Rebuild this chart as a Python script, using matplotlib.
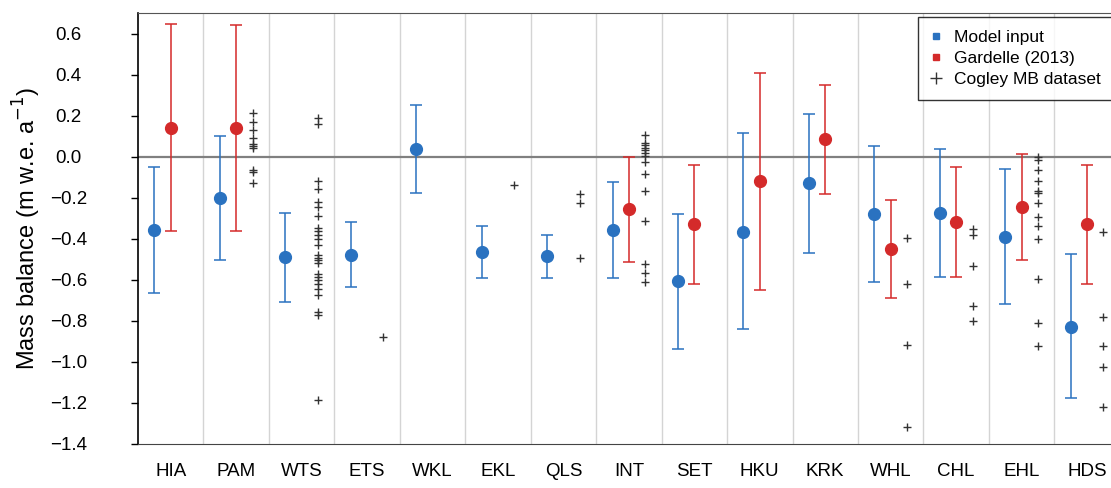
import matplotlib
matplotlib.use("Agg")
import matplotlib.pyplot as plt
from matplotlib.lines import Line2D
import numpy as np

plt.rcParams['font.family'] = ['Liberation Sans', 'DejaVu Sans']

regions = ['HIA', 'PAM', 'WTS', 'ETS', 'WKL', 'EKL', 'QLS', 'INT',
           'SET', 'HKU', 'KRK', 'WHL', 'CHL', 'EHL', 'HDS']

# model input: mean and error bar ends
model_mb = [-0.356, -0.203, -0.49, -0.48, 0.036, -0.463, -0.485, -0.359,
            -0.607, -0.365, -0.13, -0.28, -0.275, -0.392, -0.828]
model_hi = [-0.049, 0.10, -0.276, -0.32, 0.25, -0.336, -0.38, -0.123,
            -0.278, 0.115, 0.21, 0.05, 0.038, -0.062, -0.475]
model_lo = [-0.665, -0.505, -0.706, -0.637, -0.177, -0.59, -0.593, -0.59,
            -0.935, -0.84, -0.47, -0.613, -0.587, -0.72, -1.174]

# Gardelle (2013)
gardelle_regions = ['HIA', 'PAM', 'INT', 'SET', 'HKU', 'KRK', 'WHL', 'CHL', 'EHL', 'HDS']
gardelle_mb = [0.14, 0.14, -0.255, -0.33, -0.12, 0.085, -0.45, -0.319, -0.245, -0.328]
gardelle_hi = [0.645, 0.64, 0.0, -0.042, 0.408, 0.35, -0.211, -0.052, 0.013, -0.041]
gardelle_lo = [-0.36, -0.36, -0.514, -0.62, -0.65, -0.18, -0.689, -0.587, -0.506, -0.62]

# Cogley MB dataset
cogley_pam = [0.211, 0.169, 0.132, 0.09, 0.063, 0.05, 0.042, -0.065, -0.077, -0.126]
cogley_wts = [0.19, 0.16, -0.12, -0.16, -0.22, -0.245, -0.29, -0.35, -0.36, -0.38,
              -0.40, -0.43, -0.48, -0.495, -0.505, -0.52, -0.57, -0.585, -0.60,
              -0.62, -0.645, -0.675, -0.755, -0.77, -1.185]
cogley_ets = [-0.877]
cogley_ekl = [-0.14]
cogley_qls = [-0.182, -0.228, -0.496]
cogley_int = [0.104, 0.067, 0.055, 0.042, 0.031, 0.018, 0.001, -0.026, -0.083,
              -0.169, -0.312, -0.523, -0.567, -0.611]
cogley_whl = [-0.397, -0.621, -0.919, -1.316]
cogley_chl = [-0.353, -0.38, -0.532, -0.727, -0.80]
cogley_ehl = [-0.002, -0.015, -0.063, -0.117, -0.169, -0.177, -0.226, -0.294,
              -0.337, -0.402, -0.595, -0.811, -0.922]
cogley_hds = [-0.369, -0.782, -0.925, -1.023, -1.221]

cogley = {'PAM': cogley_pam, 'WTS': cogley_wts, 'ETS': cogley_ets,
          'EKL': cogley_ekl, 'QLS': cogley_qls, 'INT': cogley_int,
          'WHL': cogley_whl, 'CHL': cogley_chl, 'EHL': cogley_ehl,
          'HDS': cogley_hds}

yticks = [-1.4, -1.2, -1.0, -0.8, -0.6, -0.4, -0.2, 0.0, 0.2, 0.4, 0.6]

BLUE = '#2a72c0'
RED = '#d42a2a'

fig = plt.figure(figsize=(11.11, 4.88), dpi=100)
ax = fig.add_axes([0.1242, 0.0902, 0.8758, 0.8832])

x = np.arange(len(regions))

# category separators and zero line
for b in x[:-1] + 0.5:
    ax.axvline(b, color='#d4d4d4', lw=1, zorder=0)
ax.axhline(0, color='#808080', lw=1.6, zorder=1)

# model input
xm = x - 0.25
mb = np.array(model_mb)
ax.errorbar(xm, mb, yerr=[mb - np.array(model_lo), np.array(model_hi) - mb],
            fmt='o', color=BLUE, ms=8.5, elinewidth=1.1, capsize=4.5,
            capthick=1.1, zorder=3)

# Gardelle
xg = np.array([regions.index(r) for r in gardelle_regions], dtype=float)
gm = np.array(gardelle_mb)
ax.errorbar(xg, gm, yerr=[gm - np.array(gardelle_lo), np.array(gardelle_hi) - gm],
            fmt='o', color=RED, ms=8.5, elinewidth=1.1, capsize=4.5,
            capthick=1.1, zorder=3)

# Cogley
for r, vals in cogley.items():
    xi = regions.index(r) + 0.25
    ax.plot([xi] * len(vals), vals, '+', color='#333333', ms=5.5, mew=1.0,
            zorder=2)

ax.set_xlim(-0.5, 14.366)
ax.set_ylim(-1.4, 0.7)
ax.set_xticks(x)
ax.set_xticklabels(regions, fontsize=13.5)
ax.set_yticks(yticks)
ax.set_yticklabels([f'{v:.1f}'.replace('-', '\u2212') for v in yticks],
                   fontsize=13.5)
for lab in ax.get_yticklabels():
    lab.set_horizontalalignment('center')
ax.tick_params(axis='x', length=0, pad=14)
ax.tick_params(axis='y', direction='out', length=5, width=1, pad=45)

ax.spines['right'].set_visible(False)
ax.spines['left'].set_color('black')
ax.spines['left'].set_linewidth(1.2)
ax.spines['bottom'].set_color('#444444')
ax.spines['top'].set_color('#555555')

ax.set_ylabel('Mass balance (m w.e. a$^{-1}$)', fontsize=17)
ax.yaxis.set_label_coords(-0.098, 0.5)

handles = [
    Line2D([], [], ls='none', marker='s', color=BLUE, ms=4.5, label='Model input'),
    Line2D([], [], ls='none', marker='s', color=RED, ms=4.5, label='Gardelle (2013)'),
    Line2D([], [], ls='none', marker='+', color='#333333', ms=9, mew=1.0,
           label='Cogley MB dataset'),
]
leg = ax.legend(handles=handles, loc='upper right', bbox_to_anchor=(1.003, 0.99),
                borderaxespad=0, fontsize=12.5, frameon=True, fancybox=False,
                handlelength=0.6, handletextpad=0.75, labelspacing=0.32,
                borderpad=0.75)
leg.get_frame().set_edgecolor('black')
leg.get_frame().set_linewidth(1.0)

fig.savefig('out.png', dpi=100)
